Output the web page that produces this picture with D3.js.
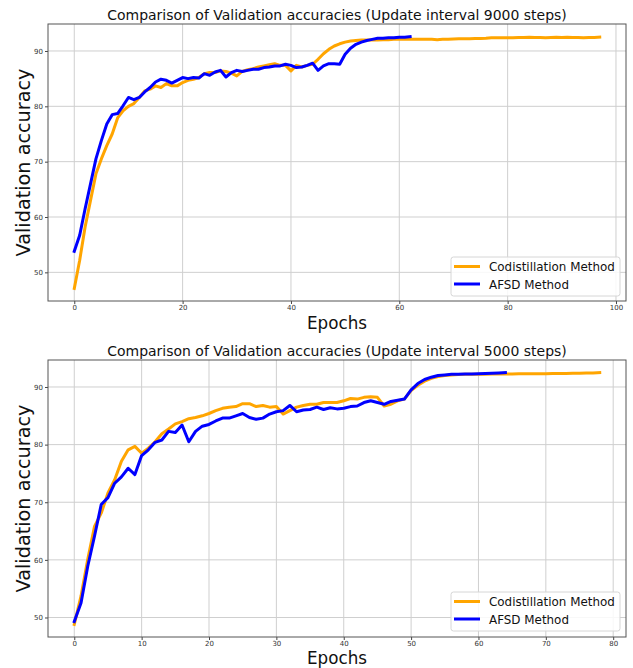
<!DOCTYPE html>
<html><head><meta charset="utf-8">
<script src="https://cdn.jsdelivr.net/npm/d3@7"></script>
<style>body{margin:0;background:#fff}svg{display:block}text{font-family:"DejaVu Sans",sans-serif}</style>
</head><body><svg id="c" width="633" height="668"></svg>
<script>
// ---- data ----
const titles = ["Comparison of Validation accuracies (Update interval 9000 steps)",
                "Comparison of Validation accuracies (Update interval 5000 steps)"];
const seriesNames = ["Codistillation Method", "AFSD Method"];
const xTicksTop = [0, 20, 40, 60, 80, 100];
const xTicksBottom = [0, 10, 20, 30, 40, 50, 60, 70, 80];
const yTicks = [50, 60, 70, 80, 90];

const codistTop = [47.1,52.2,58.2,63.0,67.8,70.5,72.9,75.0,77.9,79.2,
  80.0,80.5,81.6,82.8,83.1,83.7,83.4,84.1,83.7,83.7,
  84.3,84.7,84.9,85.2,85.9,86.1,86.1,86.4,86.3,86.0,
  85.5,86.3,86.6,86.8,87.1,87.3,87.5,87.7,87.4,87.4,
  86.4,87.4,87.1,87.4,87.6,88.5,89.5,90.3,90.9,91.3,
  91.6,91.8,91.9,
  92.0,92.0,92.0,92.0,92.05,92.05,92.1,92.1,92.1,92.1,
  92.1,92.1,92.1,92.1,92.05,92.1,92.1,92.15,92.2,92.2,
  92.2,92.25,92.25,92.3,92.4,92.4,92.4,92.4,92.4,92.45,
  92.45,92.5,92.45,92.45,92.4,92.45,92.5,92.45,92.5,92.45,92.45,92.4,92.45,92.45,92.5];
const afsdTop = [53.8,56.7,61.5,66.0,70.5,73.8,76.8,78.5,78.7,80.1,
  81.6,81.2,81.6,82.6,83.4,84.4,84.9,84.7,84.2,84.7,
  85.2,85.0,85.2,85.1,85.9,85.6,86.2,86.5,85.3,86.1,
  86.5,86.3,86.5,86.7,86.7,87.0,87.1,87.3,87.3,87.6,
  87.4,87.0,87.1,87.4,87.8,86.5,87.3,87.7,87.7,87.6,
  89.4,90.5,91.2,91.6,91.9,92.1,92.3,92.3,92.4,92.4,92.5,92.5,92.6];
const codistBottom = [48.8,53.7,60.1,65.8,68.1,71.6,73.9,77.1,79.1,79.7,
  78.5,79.4,80.5,81.9,82.7,83.6,84.0,84.5,84.7,85.0,
  85.4,85.9,86.3,86.5,86.6,87.1,87.1,86.6,86.8,86.5,
  86.6,85.3,85.9,86.5,86.8,87.0,87.0,87.3,87.3,87.3,
  87.6,88.0,87.9,88.2,88.3,88.2,86.7,87.0,87.6,87.9,
  89.4,
  90.3,91.0,91.5,91.8,92.0,92.1,92.15,92.2,92.2,92.2,92.2,92.25,92.25,92.25,
  92.25,92.3,92.3,92.3,92.3,92.3,92.35,92.35,92.35,92.4,92.4,92.45,92.45,92.5];
const afsdBottom = [49.3,52.5,58.9,64.1,69.6,70.8,73.3,74.4,75.9,74.8,
  78.1,79.1,80.4,80.8,82.3,82.1,83.4,80.5,82.3,83.2,
  83.5,84.1,84.6,84.6,85.0,85.4,84.7,84.4,84.6,85.3,
  85.7,85.9,86.8,85.7,86.0,86.1,86.5,86.1,86.4,86.2,
  86.3,86.6,86.7,87.3,87.6,87.3,87.0,87.5,87.7,87.9,
  89.5,
  90.6,91.3,91.7,92.0,92.1,92.2,92.2,92.25,92.25,92.3,92.35,92.4,92.45,92.5];

// ---- drawing ----
const svg = d3.select("#c");
const colors = ["#FFA500", "#0000FF"];
const L = 48, R = 626;

function fitText(sel, target, start) {
  let s = start; sel.style("font-size", s + "px");
  const len = sel.node().getComputedTextLength();
  s = s * target / len; sel.style("font-size", s + "px");
}

function panel(opt) {
  const {top, bottom, xTicks, codist, afsd, title, titleY, xlabY, legTop} = opt;
  const xmax = codist.length - 1;
  const pad = xmax * 0.05;
  const all = codist.concat(afsd);
  const ymin = d3.min(all), ymax = d3.max(all), yp = (ymax - ymin) * 0.05;
  const x = d3.scaleLinear().domain([-pad, xmax + pad]).range([L, R]);
  const y = d3.scaleLinear().domain([ymin - yp, ymax + yp]).range([bottom, top]);
  const g = svg.append("g");

  // grid
  g.selectAll(".gx").data(xTicks.filter(t => x(t) <= R + 0.5)).enter().append("line")
    .attr("x1", d => x(d)).attr("x2", d => x(d)).attr("y1", top).attr("y2", bottom)
    .attr("stroke", "#cfcfcf").attr("stroke-width", 1);
  g.selectAll(".gy").data(yTicks).enter().append("line")
    .attr("x1", L).attr("x2", R).attr("y1", d => y(d)).attr("y2", d => y(d))
    .attr("stroke", "#cfcfcf").attr("stroke-width", 1);

  // axes
  const xa = g.append("g").attr("transform", `translate(0,${bottom})`)
    .call(d3.axisBottom(x).tickValues(xTicks).tickSize(3).tickPadding(1.5).tickFormat(d3.format("d")));
  const ya = g.append("g").attr("transform", `translate(${L},0)`)
    .call(d3.axisLeft(y).tickValues(yTicks).tickSize(3).tickPadding(2).tickFormat(d3.format("d")));
  [xa, ya].forEach(a => {
    a.select(".domain").remove();
    a.selectAll("line").attr("stroke", "#444");
    a.selectAll("text").attr("fill", "#333").style("font-size", "7px").style("font-family", "DejaVu Sans");
  });

  // lines
  const line = d3.line().x((d, i) => x(i)).y(d => y(d));
  [codist, afsd].forEach((s, k) => {
    g.append("path").datum(s).attr("d", line).attr("fill", "none")
      .attr("stroke", colors[k]).attr("stroke-width", 3)
      .attr("stroke-linejoin", "round").attr("stroke-linecap", "square");
  });

  // frame
  g.append("rect").attr("x", L).attr("y", top).attr("width", R - L).attr("height", bottom - top)
    .attr("fill", "none").attr("stroke", "#555").attr("stroke-width", 1);

  // title & labels
  const t = g.append("text").attr("x", (L + R) / 2).attr("y", titleY).attr("text-anchor", "middle")
    .attr("fill", "#111").text(title);
  fitText(t, 460, 14);
  const xl = g.append("text").attr("x", (L + R) / 2).attr("y", xlabY).attr("text-anchor", "middle")
    .attr("fill", "#111").text("Epochs");
  fitText(xl, 60, 18);
  const yl = g.append("text").attr("transform", `translate(30,${(top + bottom) / 2}) rotate(-90)`)
    .attr("text-anchor", "middle").attr("fill", "#111").text("Validation accuracy");
  fitText(yl, 188, 18);

  // legend
  const lg = g.append("g");
  lg.append("rect").attr("x", 451).attr("y", legTop).attr("width", 169).attr("height", 39)
    .attr("rx", 2.5).attr("fill", "rgba(255,255,255,0.85)").attr("stroke", "#d6d6d6").attr("stroke-width", 1);
  seriesNames.forEach((n, k) => {
    const cy = legTop + 9.5 + k * 17.5;
    lg.append("line").attr("x1", 454).attr("x2", 480).attr("y1", cy).attr("y2", cy)
      .attr("stroke", colors[k]).attr("stroke-width", 3);
    const tt = lg.append("text").attr("x", 489).attr("y", cy + 4.5).attr("fill", "#111").text(n);
    if (k === 0) fitText(tt, 126, 12.5); else tt.style("font-size", lg.select("text").style("font-size"));
  });
}

panel({top: 24, bottom: 301, xTicks: xTicksTop, codist: codistTop, afsd: afsdTop,
       title: titles[0], titleY: 20, xlabY: 329, legTop: 257});
panel({top: 360, bottom: 637, xTicks: xTicksBottom, codist: codistBottom, afsd: afsdBottom,
       title: titles[1], titleY: 356, xlabY: 664, legTop: 592});
</script></body></html>
